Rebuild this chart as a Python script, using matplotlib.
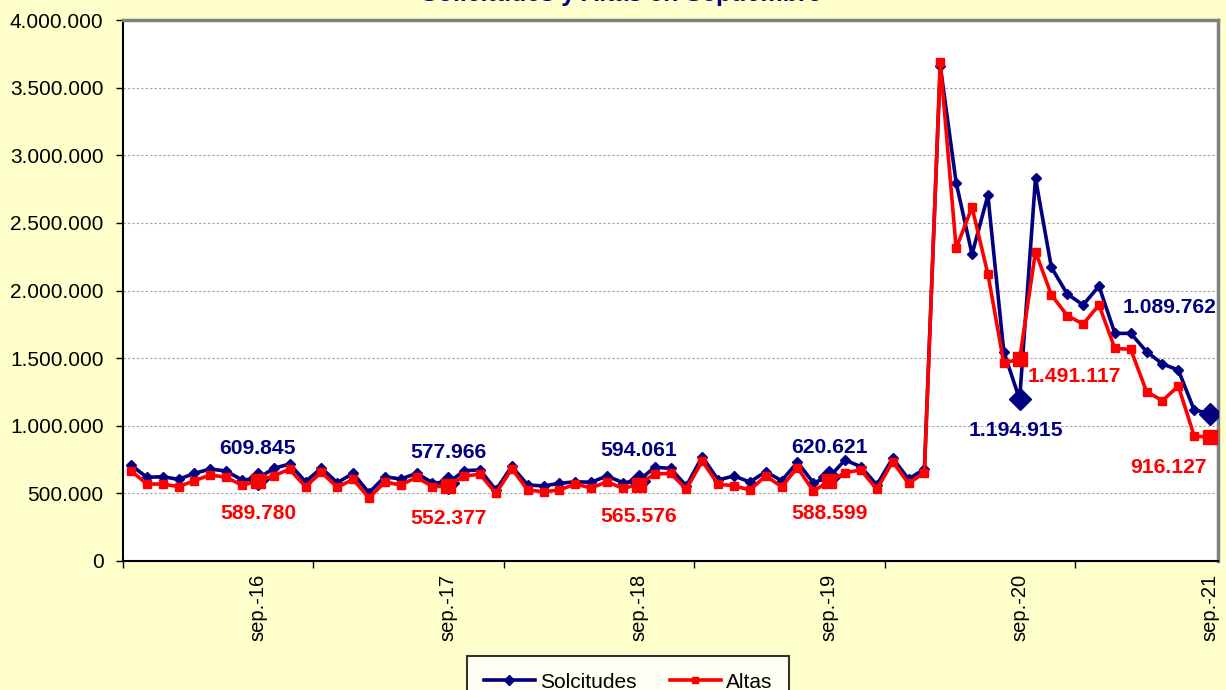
import matplotlib
matplotlib.use("Agg")
import matplotlib.pyplot as plt
from matplotlib.ticker import FuncFormatter, MultipleLocator, FixedLocator

# ---------------- data ----------------
solicitudes_k = [710, 619, 623, 604, 648, 680, 665, 599, 609.845, 685, 717, 586,
                 688, 579, 648, 505, 623, 606, 648, 579, 577.966, 668, 673, 525,
                 700, 562, 555, 574, 586, 582, 629, 579, 594.061, 693, 685, 555,
                 772, 599, 629, 584, 660, 594, 730, 579, 620.621, 747, 697, 562,
                 760, 606, 680, 3660, 2797, 2268, 2704, 1548, 1194.915, 2830, 2171, 1974,
                 1893, 2033, 1683, 1683, 1548, 1457, 1412, 1116, 1089.762]
altas_k = [668, 569, 569, 550, 594, 636, 619, 560, 589.780, 631, 678, 550,
           656, 545, 604, 466, 584, 562, 619, 550, 552.377, 629, 641, 500,
           682, 525, 512, 525, 569, 540, 586, 537, 565.576, 643, 648, 532,
           738, 567, 557, 525, 629, 550, 690, 518, 588.599, 653, 673, 530,
           734, 574, 653, 3687, 2312, 2615, 2122, 1466, 1491.117, 2287, 1967, 1815,
           1752, 1893, 1572, 1565, 1252, 1185, 1294, 924, 916.127]
solicitudes = [v * 1000 for v in solicitudes_k]
altas = [v * 1000 for v in altas_k]

sep_labels = ["sep.-16", "sep.-17", "sep.-18", "sep.-19", "sep.-20", "sep.-21"]
sep_index = [8, 20, 32, 44, 56, 68]
label_sol = ["609.845", "577.966", "594.061", "620.621", "1.194.915", "1.089.762"]
label_alt = ["589.780", "552.377", "565.576", "588.599", "1.491.117", "916.127"]

title = "Solicitudes y Altas en Septiembre"

# ---------------- style ----------------
plt.rcParams['font.family'] = ['Liberation Sans', 'DejaVu Sans']
NAVY = "#000080"
RED = "#FF0000"
BG = "#FFFFCC"

fig = plt.figure(figsize=(12.26, 6.9), dpi=100, facecolor=BG)
ax = fig.add_axes([123/1226, 1 - 561/690, (1218 - 123)/1226, (561 - 20)/690])
ax.set_facecolor("white")

x = list(range(len(solicitudes)))
ax.plot(x, solicitudes, color=NAVY, lw=2.6, marker="D", ms=5.5, mec=NAVY, mfc=NAVY,
        label="Solcitudes", zorder=3)
ax.plot(x, altas, color=RED, lw=2.6, marker="s", ms=5.5, mec=RED, mfc=RED,
        label="Altas", zorder=4)

# highlighted september points
ax.plot(sep_index, [solicitudes[i] for i in sep_index], ls="none", marker="D",
        ms=11, color=NAVY, zorder=3.5)
ax.plot(sep_index, [altas[i] for i in sep_index], ls="none", marker="s",
        ms=10.5, color=RED, zorder=4.5)

# data labels
sol_off = [(0, 30), (0, 30), (0, 30), (0, 30), (-4, -31), (-41, 106)]
alt_off = [(0, -32), (0, -32), (0, -32), (0, -32), (55, -17), (-42, -30)]
for k, i in enumerate(sep_index):
    ax.annotate(label_sol[k], (i, solicitudes[i]), xytext=sol_off[k],
                textcoords="offset pixels", ha="center", va="center",
                fontsize=15.2, fontweight="bold", color=NAVY, zorder=6)
    ax.annotate(label_alt[k], (i, altas[i]), xytext=alt_off[k],
                textcoords="offset pixels", ha="center", va="center",
                fontsize=15.2, fontweight="bold", color=RED, zorder=6)

# axes
ax.set_xlim(-0.5, len(solicitudes) - 0.5)
ax.set_ylim(0, 4000000)
ax.yaxis.set_major_locator(MultipleLocator(500000))
ax.yaxis.set_major_formatter(FuncFormatter(lambda v, p: f"{int(v):,}".replace(",", ".")))
ax.grid(axis="y", color="#A0A0A0", ls=(0, (2, 2)), lw=0.8)
ax.set_axisbelow(True)

ax.xaxis.set_major_locator(FixedLocator(sep_index))
ax.set_xticklabels(sep_labels, rotation=90)
ax.xaxis.set_minor_locator(FixedLocator([-0.5 + 12 * k for k in range(7)]))
ax.tick_params(axis="x", which="major", length=0, pad=9.5, labelsize=14.5)
ax.tick_params(axis="x", which="minor", length=5, width=1, direction="out", color="black")
ax.tick_params(axis="y", length=5, width=1, pad=9, labelsize=15)

for s in ["left", "bottom"]:
    ax.spines[s].set_color("black")
    ax.spines[s].set_linewidth(1.5)
for s in ["top", "right"]:
    ax.spines[s].set_color("#808080")
    ax.spines[s].set_linewidth(2.5)

# legend
leg = fig.legend(loc="upper center", bbox_to_anchor=(628/1226, 1 - 656/690),
                 borderaxespad=0, ncol=2, frameon=True, fancybox=False, fontsize=15,
                 handlelength=2.45, columnspacing=1.6, borderpad=0.8,
                 handletextpad=0.25)
leg.get_frame().set_edgecolor("black")
leg.get_frame().set_linewidth(1.5)
leg.get_frame().set_facecolor("white")
for h in leg.legend_handles:
    h.set_markersize(5)

# title (mostly cut off at top)
fig.text(0.507, 1 - 1.5/690, title, ha="center", va="baseline", fontsize=18,
         fontweight="bold", color=NAVY)

fig.savefig("out.png", dpi=100, facecolor=BG)
